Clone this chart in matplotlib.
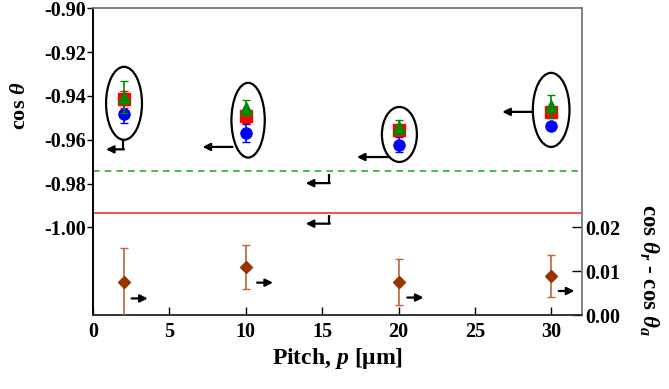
import matplotlib
matplotlib.use("Agg")
import matplotlib.pyplot as plt
from matplotlib.patches import Ellipse

plt.rcParams['font.family'] = ['Liberation Serif', 'DejaVu Serif']
plt.rcParams['font.weight'] = 'bold'
plt.rcParams['mathtext.fontset'] = 'custom'
plt.rcParams['mathtext.rm'] = 'Liberation Serif:bold'
plt.rcParams['mathtext.it'] = 'Liberation Serif:bold:italic'
plt.rcParams['mathtext.bf'] = 'Liberation Serif:bold'

# ---- data ----
pitch = [2, 10, 20, 30]
cos_red = [-0.9416, -0.9493, -0.9557, -0.9473]
err_red = [0.004, 0.003, 0.002, 0.002]
cos_green = [-0.9405, -0.9455, -0.9542, -0.9447]
err_green = [0.0075, 0.0035, 0.0032, 0.0053]
cos_blue = [-0.9483, -0.957, -0.9622, -0.9537]
err_blue = [0.0041, 0.004, 0.0034, 0.002]
hyst = [0.0076, 0.011, 0.0076, 0.0089]
hyst_err = [0.0078, 0.005, 0.0052, 0.0048]
flat_green = -0.9744
flat_red = -0.9935

xticks = [0, 5, 10, 15, 20, 25, 30]
yticks_left = [-1.00, -0.98, -0.96, -0.94, -0.92, -0.90]
yticks_right = [0.00, 0.01, 0.02]

# ellipses: (x, y, width, height)
ellipses = [(2.03, -0.9434, 2.35, 0.0333),
            (10.15, -0.9511, 2.18, 0.0341),
            (20.05, -0.9576, 2.29, 0.0251),
            (29.98, -0.9464, 2.40, 0.0338)]
# left-pointing arrows (x_start, x_end, y)
left_arrows = [(9.13, 7.17, -0.9633), (19.41, 17.27, -0.9679), (28.78, 26.78, -0.9473)]
# bent arrows: (x_vert, y_top, y_bottom, x_end)
bent_arrows = [(1.98, -0.9600, -0.9644, 0.85),
               (15.44, -0.9755, -0.9798, 13.92),
               (15.44, -0.9945, -0.9983, 13.92)]
# right-pointing arrows on right axis (x_start, x_end, y)
right_arrows = [(2.53, 3.58, 0.0038), (10.74, 11.78, 0.0074),
                (20.57, 21.63, 0.0040), (30.48, 31.50, 0.0055)]

fig = plt.figure(figsize=(6.69, 3.89), dpi=100)
ax = fig.add_axes([0.139, 0.190, 0.731, 0.789])
ax2 = ax.twinx()

ax.set_xlim(0, 32)
ax.set_ylim(-1.04, -0.90)
ax2.set_ylim(0, 0.07)

ax.axhline(flat_green, color='#33aa33', ls=(0, (4, 3)), lw=1.2, zorder=1)
ax.axhline(flat_red, color='#ee3333', lw=1.2, zorder=1)

ax.errorbar(pitch, cos_red, yerr=err_red, fmt='s', color='#ff0000', ms=8.5,
            capsize=3, elinewidth=1.2, zorder=3)
ax.errorbar(pitch, cos_blue, yerr=err_blue, fmt='o', color='#0000ff', ms=8,
            capsize=3, elinewidth=1.2, zorder=3)
ax.errorbar(pitch, cos_green, yerr=err_green, fmt='^', color='#008a00', ms=8.5,
            capsize=3, elinewidth=1.2, zorder=4)

for (x, y, w, h) in ellipses:
    ax.add_patch(Ellipse((x, y), w, h, fill=False, ec='black', lw=1.6, zorder=5))

ap = dict(arrowstyle='-|>', lw=1.6, color='black', mutation_scale=11,
          shrinkA=0, shrinkB=0)
for (xs, xe, y) in left_arrows:
    ax.annotate('', xy=(xe, y), xytext=(xs, y), arrowprops=ap, zorder=5)
for (xv, yt, yb, xe) in bent_arrows:
    ax.plot([xv, xv], [yt, yb], color='black', lw=1.6, zorder=5,
            solid_capstyle='butt')
    ax.annotate('', xy=(xe, yb), xytext=(xv + 0.05, yb), arrowprops=ap, zorder=5)

ax2.errorbar(pitch, hyst, yerr=hyst_err, fmt='D', color='#993300', ms=6.5,
             ecolor='#b8653a', capsize=3, elinewidth=1.2, zorder=3)
for (xs, xe, y) in right_arrows:
    ax2.annotate('', xy=(xe, y), xytext=(xs, y), arrowprops=ap, zorder=5)

ax.set_xticks(xticks)
ax.set_yticks(yticks_left)
ax.set_yticklabels(['%.2f' % v for v in yticks_left])
ax2.set_yticks(yticks_right)
ax2.set_yticklabels(['%.2f' % v for v in yticks_right])

ax.tick_params(axis='x', direction='in', length=6, width=1, labelsize=14.5, pad=5)
ax.tick_params(axis='y', direction='out', length=4, width=1, labelsize=14.5, pad=1)
ax2.tick_params(axis='y', direction='in', length=7, width=1, labelsize=14.5, pad=2)

for a in (ax, ax2):
    a.spines['top'].set_color('#808080')
    a.spines['right'].set_color('#808080')
    a.spines['left'].set_color('black')
    a.spines['bottom'].set_color('#333333')
    for s in a.spines.values():
        s.set_linewidth(1.2)

ax.set_xlabel(r'Pitch, $p$ [μm]', fontsize=17, fontweight='bold', labelpad=3)
fig.text(0.030, 0.727, r'cos $\theta$', rotation=90, fontsize=16,
         fontweight='bold', ha='center', va='center')
fig.text(0.969, 0.306, r'cos $\theta_r$ - cos $\theta_a$', rotation=270,
         fontsize=16.5, fontweight='bold', ha='center', va='center')

fig.savefig('out.png', dpi=100)
